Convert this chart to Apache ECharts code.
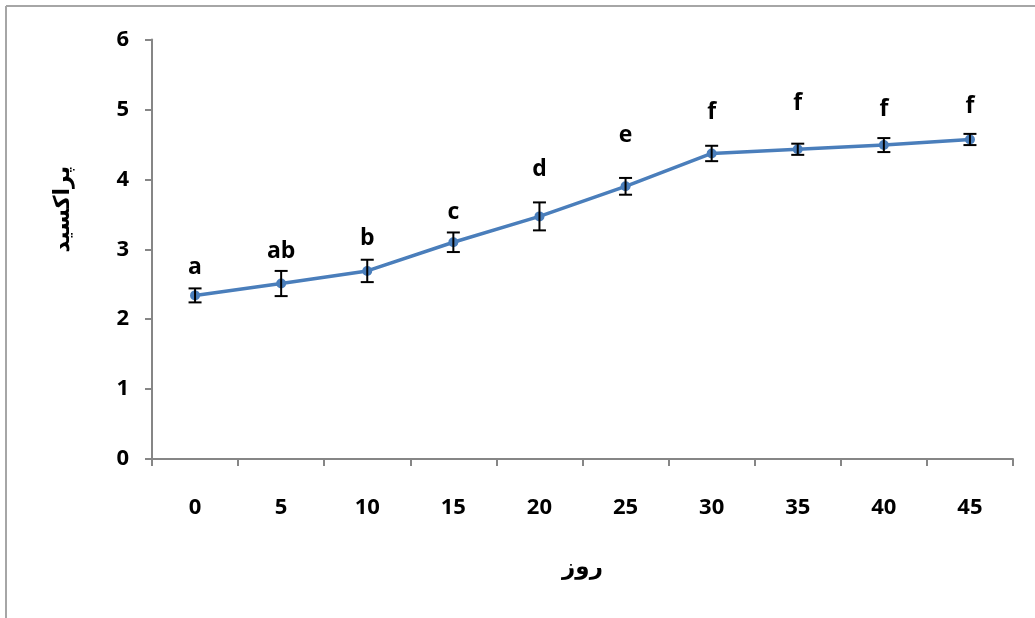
<!DOCTYPE html>
<html>
<head>
<meta charset="utf-8">
<script src="https://cdn.jsdelivr.net/npm/echarts@6/dist/echarts.min.js"></script>
<style>
html,body{margin:0;padding:0;background:#fff;}
#chart{width:1035px;height:618px;}
</style>
</head>
<body>
<div id="chart"></div>
<script>
// Data
var days = ['0', '5', '10', '15', '20', '25', '30', '35', '40', '45'];
var peroxide = [2.34, 2.51, 2.69, 3.10, 3.47, 3.90, 4.37, 4.43, 4.49, 4.57];
var errors = [0.10, 0.18, 0.16, 0.14, 0.20, 0.12, 0.11, 0.08, 0.10, 0.08];
var letters = ['a', 'ab', 'b', 'c', 'd', 'e', 'f', 'f', 'f', 'f'];
var letterHeights = [2.74, 2.97, 3.15, 3.52, 4.14, 4.63, 4.95, 5.08, 5.00, 5.04];
var yTicks = [0, 1, 2, 3, 4, 5, 6];
var xName = 'روز';
var yName = 'پراکسید';

var chart = echarts.init(document.getElementById('chart'), null, {renderer: 'canvas'});

var errData = days.map(function (d, i) {
  return [i, peroxide[i] - errors[i], peroxide[i] + errors[i]];
});
var letterData = days.map(function (d, i) {
  return [i, letterHeights[i], letters[i]];
});

var tickFont = {fontFamily: 'Open Sans', fontWeight: 'bold', fontSize: 22, color: '#000'};

var option = {
  backgroundColor: '#ffffff',
  animation: false,
  graphic: [
    {type: 'line', shape: {x1: 6, y1: 6, x2: 1035, y2: 6}, style: {stroke: '#a6a6a6', lineWidth: 2}, z: 100},
    {type: 'line', shape: {x1: 6, y1: 6, x2: 6, y2: 618}, style: {stroke: '#a6a6a6', lineWidth: 2}, z: 100}
  ],
  grid: {left: 152, right: 22, top: 39.5, bottom: 159, containLabel: false},
  xAxis: {
    type: 'category',
    data: days,
    boundaryGap: true,
    name: xName,
    nameLocation: 'middle',
    nameGap: 98,
    nameTextStyle: {fontFamily: 'DejaVu Sans', fontWeight: 'bold', fontSize: 23, color: '#000'},
    axisLine: {lineStyle: {color: '#868686', width: 2}},
    axisTick: {show: true, alignWithLabel: false, length: 7, lineStyle: {color: '#868686', width: 2}},
    axisLabel: Object.assign({margin: 38}, tickFont),
    splitLine: {show: false}
  },
  yAxis: {
    type: 'value',
    min: yTicks[0],
    max: yTicks[yTicks.length - 1],
    interval: 1,
    name: yName,
    nameLocation: 'middle',
    nameRotate: 90,
    nameGap: 78,
    nameTextStyle: {fontFamily: 'DejaVu Sans', fontWeight: 'bold', fontSize: 22, color: '#000', padding: [0, 0, 0, 80]},
    axisLine: {show: true, lineStyle: {color: '#868686', width: 2}},
    axisTick: {show: true, length: 7, lineStyle: {color: '#868686', width: 2}},
    axisLabel: Object.assign({margin: 23}, tickFont),
    splitLine: {show: false}
  },
  series: [
    {
      type: 'line',
      data: peroxide,
      symbol: 'circle',
      symbolSize: 10,
      itemStyle: {color: '#4a7ebb'},
      lineStyle: {color: '#4a7ebb', width: 3.5},
      z: 3
    },
    {
      type: 'custom',
      data: errData,
      z: 4,
      renderItem: function (params, api) {
        var x = api.value(0);
        var lo = api.coord([x, api.value(1)]);
        var hi = api.coord([x, api.value(2)]);
        var w = 6.5;
        var st = {stroke: '#000', lineWidth: 2};
        return {
          type: 'group',
          children: [
            {type: 'line', shape: {x1: lo[0], y1: lo[1], x2: hi[0], y2: hi[1]}, style: st},
            {type: 'line', shape: {x1: lo[0] - w, y1: lo[1], x2: lo[0] + w, y2: lo[1]}, style: st},
            {type: 'line', shape: {x1: hi[0] - w, y1: hi[1], x2: hi[0] + w, y2: hi[1]}, style: st}
          ]
        };
      }
    },
    {
      type: 'custom',
      data: letterData,
      z: 5,
      encode: {x: 0, y: 1},
      renderItem: function (params, api) {
        var p = api.coord([api.value(0), api.value(1)]);
        return {
          type: 'text',
          x: p[0],
          y: p[1],
          style: {
            text: letters[params.dataIndex],
            fill: '#000',
            font: 'bold 23px "Open Sans"',
            align: 'center',
            verticalAlign: 'middle'
          }
        };
      }
    }
  ]
};
chart.setOption(option);
</script>
</body>
</html>
